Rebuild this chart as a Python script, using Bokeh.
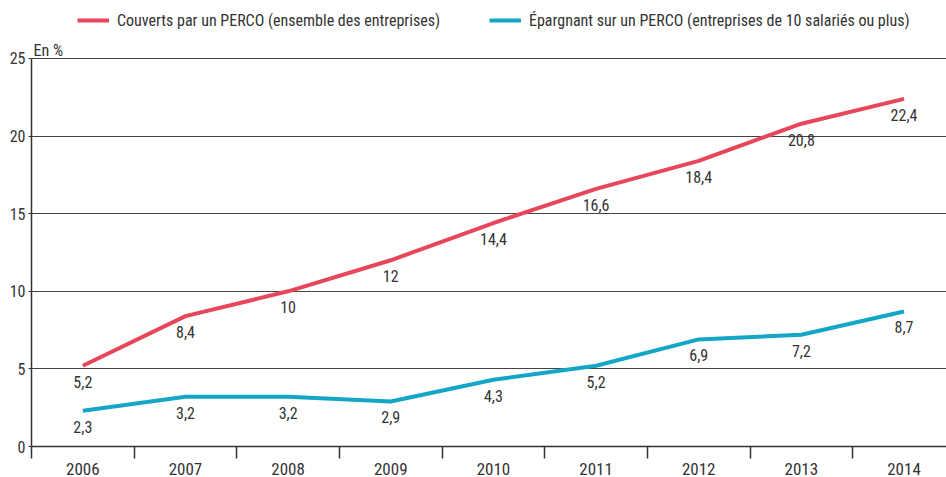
from bokeh.plotting import figure
from bokeh.models import (ColumnDataSource, Range1d, FixedTicker, Legend, LegendItem)
from bokeh.core.properties import value
from bokeh.embed import file_html
from bokeh.resources import INLINE

years = ["2006", "2007", "2008", "2009", "2010", "2011", "2012", "2013", "2014"]
couverts = [5.2, 8.4, 10, 12, 14.4, 16.6, 18.4, 20.8, 22.4]
epargnant = [2.3, 3.2, 3.2, 2.9, 4.3, 5.2, 6.9, 7.2, 8.7]
y_ticks = [0, 5, 10, 15, 20, 25]
y_max = 25
unit_label = "En %"
name_red = "Couverts par un PERCO (ensemble des entreprises)"
name_blue = "Épargnant sur un PERCO (entreprises de 10 salariés ou plus)"

FONT = "Roboto Condensed"
TXT = "#333333"
RED = "#E8475B"
BLUE = "#14A6C6"

xs = list(range(len(years)))

def fmt(v):
    return f"{v:g}".replace(".", ",")

src_r = ColumnDataSource(dict(x=xs, y=couverts, lab=[fmt(v) for v in couverts]))
src_b = ColumnDataSource(dict(x=xs, y=epargnant, lab=[fmt(v) for v in epargnant]))

# frame spans whole canvas height above the axis; the axis line itself stops at 25
p = figure(width=946, height=477, output_backend="svg", toolbar_location=None,
           x_range=Range1d(-0.5, 8.414), y_range=Range1d(0, 28.737),
           min_border_left=31, min_border_right=0, min_border_top=0, min_border_bottom=31)
p.outline_line_color = None
p.background_fill_color = "white"

p.xaxis.ticker = FixedTicker(ticks=xs, minor_ticks=[i - 0.5 for i in xs])
p.xaxis.major_label_overrides = {i: y for i, y in enumerate(years)}
p.xaxis.major_tick_out = 0
p.xaxis.major_tick_in = 0
p.xaxis.minor_tick_out = 12
p.xaxis.minor_tick_in = 0
p.xaxis.minor_tick_line_color = TXT
p.xaxis.minor_tick_line_width = 1.5
p.xaxis.axis_line_color = TXT
p.xaxis.axis_line_width = 1.5
p.xaxis.major_label_standoff = 4
p.xaxis.major_label_text_font = FONT
p.xaxis.major_label_text_font_size = "17px"
p.xaxis.major_label_text_color = TXT

p.yaxis.ticker = FixedTicker(ticks=y_ticks)
p.yaxis.bounds = (0, y_max)
p.yaxis.minor_tick_line_color = None
p.yaxis.major_tick_out = 3
p.yaxis.major_tick_in = 0
p.yaxis.major_tick_line_color = TXT
p.yaxis.axis_line_color = TXT
p.yaxis.axis_line_width = 1.5
p.yaxis.major_label_standoff = 3
p.yaxis.major_label_text_font = FONT
p.yaxis.major_label_text_font_size = "16px"
p.yaxis.major_label_text_color = TXT

p.xgrid.grid_line_color = None
p.ygrid.ticker = FixedTicker(ticks=y_ticks)
p.ygrid.grid_line_color = "#444444"
p.ygrid.grid_line_width = 1.1

r1 = p.line("x", "y", source=src_r, line_color=RED, line_width=4)
r2 = p.line("x", "y", source=src_b, line_color=BLUE, line_width=4)

for s in (src_r, src_b):
    p.text("x", "y", text="lab", source=s, text_align="center", text_baseline="top",
           y_offset=10, text_font=value(FONT), text_font_size="16px", text_color=TXT)

p.text(x=[-0.5], y=[y_max], text=[unit_label], text_align="left", text_baseline="alphabetic",
       x_offset=2, y_offset=-8, text_font=value(FONT), text_font_size="16px", text_color=TXT)

for name, r, loc in ((name_red, r1, (46, 416)), (name_blue, r2, (458, 416))):
    lg = Legend(items=[LegendItem(label=name, renderers=[r])],
                orientation="horizontal", location=loc, padding=0, margin=0,
                glyph_width=32, label_standoff=8,
                label_text_font=FONT, label_text_font_size="16px", label_text_color=TXT,
                border_line_color=None, background_fill_alpha=0)
    p.add_layout(lg, "center")

open("out.html", "w").write(file_html(p, INLINE))
